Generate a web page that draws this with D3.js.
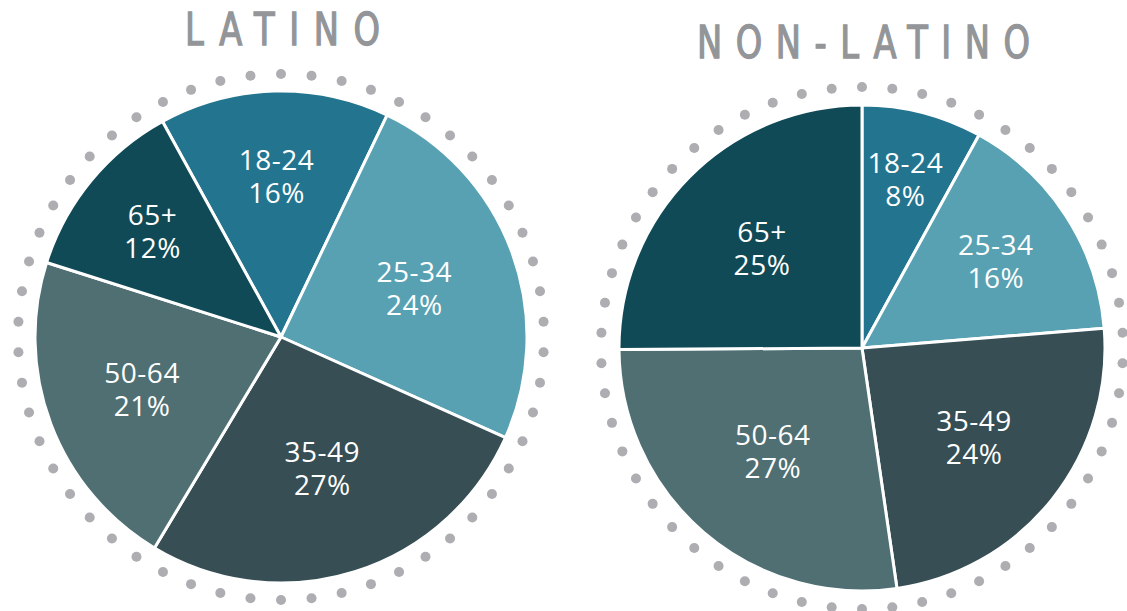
<!DOCTYPE html>
<html><head><meta charset="utf-8">
<script src="https://cdn.jsdelivr.net/npm/d3@7"></script>
<style>html,body{margin:0;padding:0;background:#fff;}svg{display:block;}</style>
</head><body>
<svg id="chart" width="1127" height="611"></svg>
<script>
const categories = ["18-24", "25-34", "35-49", "50-64", "65+"];
const latinoValues = [15.1, 24.6, 26.9, 21.3, 12.1];
const latinoLabels = ["16%", "24%", "27%", "21%", "12%"];
const nonLatinoValues = [8.0, 15.7, 24.0, 27.2, 25.1];
const nonLatinoLabels = ["8%", "16%", "24%", "27%", "25%"];
const sliceColors = ["#23758f", "#58a1b3", "#364e54", "#4f6f73", "#104a56"];
const titles = ["LATINO", "NON-LATINO"];

const svg = d3.select("#chart");
const color = d3.scaleOrdinal().domain(categories).range(sliceColors);
const deg = Math.PI / 180;
// labels of thin slices sit farther from the centre
const labelRadius = d3.scaleLinear().domain([0, 100]).range([190, -5]);

const charts = [
  {title: titles[0], values: latinoValues, labels: latinoLabels, cx: 281, cy: 337, r: 246, ringR: 263, start: -28.8 * deg,
   titleX: 185, titleW: 195, titleY: 45},
  {title: titles[1], values: nonLatinoValues, labels: nonLatinoLabels, cx: 862, cy: 348, r: 243, ringR: 261, start: 0,
   titleX: 697, titleW: 333, titleY: 58}
];

charts.forEach(c => {
  const g = svg.append("g").attr("transform", `translate(${c.cx},${c.cy})`);
  const nDots = 54;
  const dots = d3.range(nDots).map(i => i * 2 * Math.PI / nDots);
  g.selectAll("circle.dot").data(dots).join("circle")
    .attr("class", "dot")
    .attr("cx", a => c.ringR * Math.sin(a))
    .attr("cy", a => -c.ringR * Math.cos(a))
    .attr("r", 5)
    .attr("fill", "#adadb2");

  const data = categories.map((k, i) => ({key: k, value: c.values[i], label: c.labels[i]}));
  const pie = d3.pie().sort(null).value(d => d.value)
    .startAngle(c.start).endAngle(c.start + 2 * Math.PI);
  const arcs = pie(data);
  const arc = d3.arc().innerRadius(0).outerRadius(c.r);

  g.selectAll("path.slice").data(arcs).join("path")
    .attr("class", "slice")
    .attr("d", arc)
    .attr("fill", d => color(d.data.key))
    .attr("stroke", "#fff")
    .attr("stroke-width", 3)
    .attr("stroke-linejoin", "round");

  const lab = g.selectAll("g.lab").data(arcs).join("g")
    .attr("class", "lab")
    .attr("transform", d => {
      const rr = labelRadius(d.data.value);
      return `translate(${d3.arc().innerRadius(rr).outerRadius(rr).centroid(d)})`;
    });
  const txt = (sel, y, f) => sel.append("text")
    .attr("text-anchor", "middle")
    .attr("fill", "#fff")
    .attr("font-family", "'Open Sans', 'Noto Sans', sans-serif")
    .attr("font-size", 28)
    .attr("letter-spacing", 0.5)
    .attr("y", y)
    .text(f);
  txt(lab, -6.5, d => d.data.key);
  txt(lab, 26.5, d => d.data.label);

  const sx = 0.85;
  svg.append("text")
    .attr("transform", `translate(${c.titleX},${c.titleY}) scale(${sx},1)`)
    .attr("x", 0).attr("y", 0)
    .attr("textLength", c.titleW / sx).attr("lengthAdjust", "spacing")
    .attr("fill", "#939598")
    .attr("stroke", "#939598")
    .attr("stroke-width", 1.3)
    .attr("font-family", "'Liberation Sans Narrow', 'DejaVu Sans Condensed', sans-serif")
    .attr("font-size", 44)
    .text(c.title);
});
</script>
</body></html>
